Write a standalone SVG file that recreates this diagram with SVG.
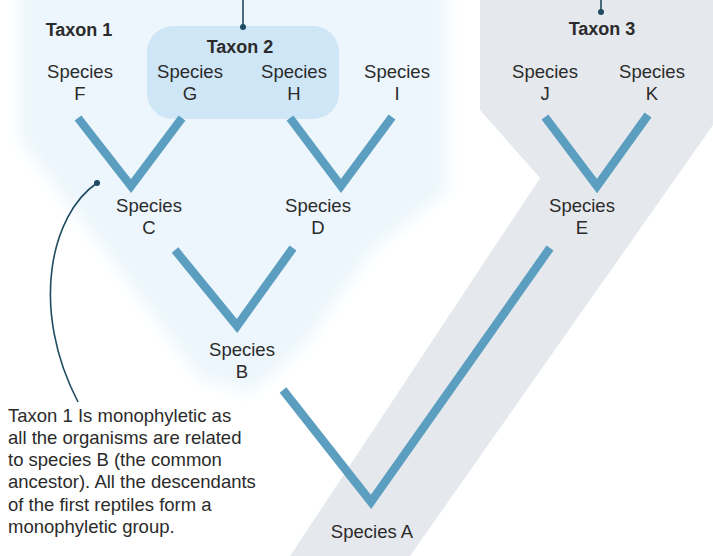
<svg xmlns="http://www.w3.org/2000/svg" width="713" height="556" viewBox="0 0 713 556">
<defs>
<style>
.sp{font-family:"Liberation Sans",Arial,sans-serif;font-size:18.5px;fill:#2b2b2b;text-anchor:middle}
.tx{font-family:"Liberation Sans",Arial,sans-serif;font-size:18px;font-weight:bold;fill:#2b2b2b;text-anchor:middle}
.para{font-family:"Liberation Sans",Arial,sans-serif;font-size:18.5px;fill:#2b2b2b}
.br{fill:none;stroke:#5b9ec0;stroke-width:8.5;stroke-linecap:butt;stroke-linejoin:miter}
.ld{fill:none;stroke:#1f4c60;stroke-width:1.6}
.dot{fill:#1f4c60}
</style>
<filter id="soft" x="-10%" y="-10%" width="120%" height="120%"><feGaussianBlur stdDeviation="8"/></filter>
</defs>
<rect width="713" height="556" fill="#ffffff"/>
<g id="taxon1-region">
<polygon points="20,-20 447,-20 447,190 372,250 300,350 250,392 200,378 105,250 20,140" fill="#ecf6fc" filter="url(#soft)"/>
</g>
<g id="taxon3-region">
<polygon points="480,0 713,0 713,125 410,556 290,556 540,178 480,110" fill="#e5e8ec"/>
</g>
<g id="taxon2-box">
<rect x="147" y="26" width="192" height="93" rx="26" fill="#cfe6f6"/>
</g>
<g id="connectors">
<polyline class="br" points="78,118 131,186 182,118"/>
<polyline class="br" points="290,118 341,186 392,117"/>
<polyline class="br" points="175,250 237,326 293,248"/>
<polyline class="br" points="283,390 371,502 550,248"/>
<polyline class="br" points="545,117 597,186 648,115"/>
<line class="ld" x1="243" y1="0" x2="243" y2="27"/>
<circle class="dot" cx="243" cy="27" r="3"/>
<line class="ld" x1="601" y1="0" x2="601" y2="12"/>
<circle class="dot" cx="601" cy="12" r="3"/>
<path class="ld" d="M97,183 C50,215 30,310 78,402"/>
<circle class="dot" cx="97" cy="183" r="3"/>
</g>
<g id="taxon1"><text class="tx" x="79" y="36">Taxon 1</text></g>
<g id="taxon2"><text class="tx" x="240" y="53">Taxon 2</text></g>
<g id="taxon3"><text class="tx" x="602" y="35">Taxon 3</text></g>
<g id="species-f"><text class="sp" x="80" y="78">Species</text><text class="sp" x="80" y="100">F</text></g>
<g id="species-g"><text class="sp" x="190" y="78">Species</text><text class="sp" x="190" y="100">G</text></g>
<g id="species-h"><text class="sp" x="294" y="78">Species</text><text class="sp" x="294" y="100">H</text></g>
<g id="species-i"><text class="sp" x="397" y="78">Species</text><text class="sp" x="397" y="100">I</text></g>
<g id="species-j"><text class="sp" x="545" y="78">Species</text><text class="sp" x="545" y="100">J</text></g>
<g id="species-k"><text class="sp" x="652" y="78">Species</text><text class="sp" x="652" y="100">K</text></g>
<g id="species-c"><text class="sp" x="149" y="212">Species</text><text class="sp" x="149" y="234">C</text></g>
<g id="species-d"><text class="sp" x="318" y="212">Species</text><text class="sp" x="318" y="234">D</text></g>
<g id="species-e"><text class="sp" x="582" y="212">Species</text><text class="sp" x="582" y="234">E</text></g>
<g id="species-b"><text class="sp" x="242" y="356">Species</text><text class="sp" x="242" y="378">B</text></g>
<g id="species-a"><text class="sp" x="372" y="538">Species A</text></g>
<g id="note">
<text class="para" x="8" y="422">Taxon 1 Is monophyletic as</text>
<text class="para" x="8" y="444">all the organisms are related</text>
<text class="para" x="8" y="466">to species B (the common</text>
<text class="para" x="8" y="488">ancestor). All the descendants</text>
<text class="para" x="8" y="511">of the first reptiles form a</text>
<text class="para" x="8" y="533">monophyletic group.</text>
</g>
</svg>
